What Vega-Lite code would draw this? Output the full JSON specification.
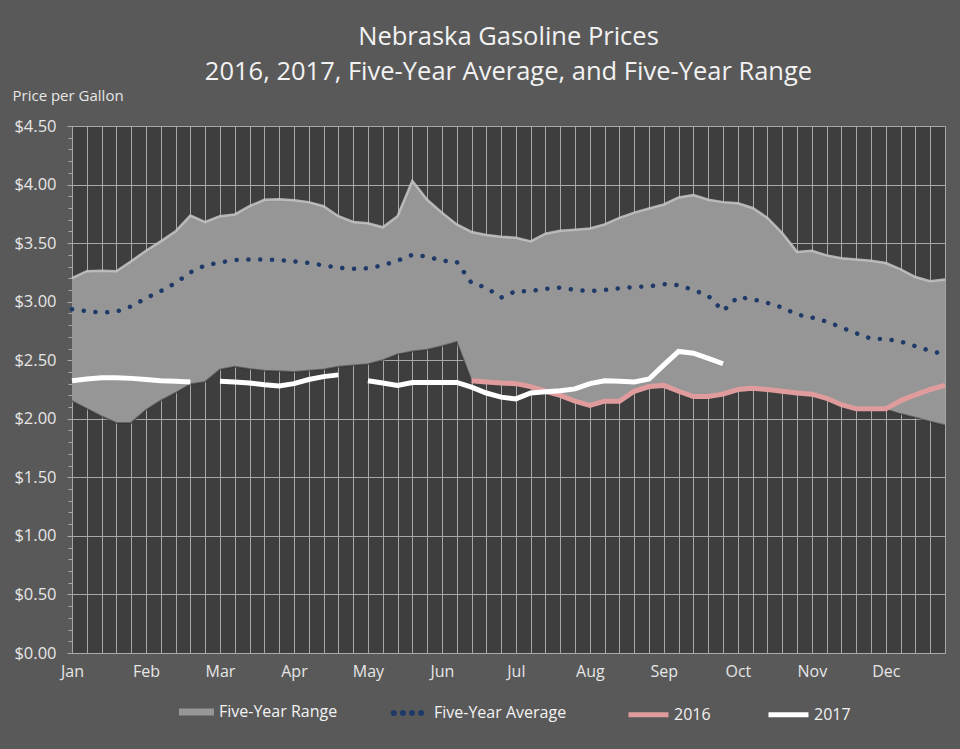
{
  "$schema": "https://vega.github.io/schema/vega-lite/v6.json",
  "width": 873,
  "height": 527,
  "autosize": "none",
  "padding": {"left": 72, "top": 126, "right": 15, "bottom": 96},
  "background": "#595959",
  "config": {
    "font": "Open Sans",
    "view": {"fill": "#3e3e3e", "stroke": null}
  },
  "title": {
    "text": ["Nebraska Gasoline Prices", "2016, 2017, Five-Year Average, and Five-Year Range"],
    "color": "#f2f2f2",
    "fontSize": 25.5,
    "fontWeight": "normal",
    "font": "Open Sans",
    "lineHeight": 35,
    "anchor": "middle",
    "frame": "group",
    "offset": 3
  },
  "data": {
    "values": [
      {"i":0,"hi":3.20,"lo":2.15,"avg":2.935,"y2016":null,"y2017":2.325},
      {"i":1,"hi":3.26,"lo":2.085,"avg":2.92,"y2016":null,"y2017":2.34},
      {"i":2,"hi":3.265,"lo":2.02,"avg":2.905,"y2016":null,"y2017":2.35},
      {"i":3,"hi":3.26,"lo":1.965,"avg":2.915,"y2016":null,"y2017":2.35},
      {"i":4,"hi":3.345,"lo":1.965,"avg":2.96,"y2016":null,"y2017":2.345},
      {"i":5,"hi":3.435,"lo":2.075,"avg":3.03,"y2016":null,"y2017":2.335},
      {"i":6,"hi":3.515,"lo":2.155,"avg":3.09,"y2016":null,"y2017":2.325},
      {"i":7,"hi":3.60,"lo":2.22,"avg":3.16,"y2016":null,"y2017":2.32},
      {"i":8,"hi":3.735,"lo":2.295,"avg":3.25,"y2016":null,"y2017":2.315},
      {"i":9,"hi":3.68,"lo":2.315,"avg":3.31,"y2016":null,"y2017":null},
      {"i":10,"hi":3.73,"lo":2.42,"avg":3.335,"y2016":null,"y2017":2.32},
      {"i":11,"hi":3.745,"lo":2.445,"avg":3.355,"y2016":null,"y2017":2.315},
      {"i":12,"hi":3.815,"lo":2.425,"avg":3.36,"y2016":null,"y2017":2.305},
      {"i":13,"hi":3.87,"lo":2.41,"avg":3.36,"y2016":null,"y2017":2.29},
      {"i":14,"hi":3.875,"lo":2.405,"avg":3.355,"y2016":null,"y2017":2.28},
      {"i":15,"hi":3.865,"lo":2.40,"avg":3.345,"y2016":null,"y2017":2.30},
      {"i":16,"hi":3.85,"lo":2.41,"avg":3.33,"y2016":null,"y2017":2.335},
      {"i":17,"hi":3.815,"lo":2.42,"avg":3.31,"y2016":null,"y2017":2.36},
      {"i":18,"hi":3.73,"lo":2.445,"avg":3.29,"y2016":null,"y2017":2.375},
      {"i":19,"hi":3.68,"lo":2.455,"avg":3.28,"y2016":null,"y2017":null},
      {"i":20,"hi":3.67,"lo":2.465,"avg":3.285,"y2016":null,"y2017":2.325},
      {"i":21,"hi":3.635,"lo":2.50,"avg":3.31,"y2016":null,"y2017":2.305},
      {"i":22,"hi":3.73,"lo":2.55,"avg":3.35,"y2016":null,"y2017":2.285},
      {"i":23,"hi":4.03,"lo":2.575,"avg":3.40,"y2016":null,"y2017":2.31},
      {"i":24,"hi":3.87,"lo":2.59,"avg":3.385,"y2016":null,"y2017":2.31},
      {"i":25,"hi":3.76,"lo":2.62,"avg":3.35,"y2016":null,"y2017":2.31},
      {"i":26,"hi":3.66,"lo":2.655,"avg":3.34,"y2016":null,"y2017":2.31},
      {"i":27,"hi":3.595,"lo":2.325,"avg":3.16,"y2016":2.325,"y2017":2.27},
      {"i":28,"hi":3.57,"lo":2.315,"avg":3.12,"y2016":2.315,"y2017":2.22},
      {"i":29,"hi":3.555,"lo":2.305,"avg":3.035,"y2016":2.305,"y2017":2.185},
      {"i":30,"hi":3.545,"lo":2.30,"avg":3.09,"y2016":2.30,"y2017":2.17},
      {"i":31,"hi":3.515,"lo":2.275,"avg":3.09,"y2016":2.275,"y2017":2.22},
      {"i":32,"hi":3.58,"lo":2.235,"avg":3.11,"y2016":2.235,"y2017":2.23},
      {"i":33,"hi":3.605,"lo":2.20,"avg":3.12,"y2016":2.20,"y2017":2.24},
      {"i":34,"hi":3.615,"lo":2.15,"avg":3.10,"y2016":2.15,"y2017":2.255},
      {"i":35,"hi":3.625,"lo":2.115,"avg":3.09,"y2016":2.115,"y2017":2.30},
      {"i":36,"hi":3.66,"lo":2.15,"avg":3.10,"y2016":2.15,"y2017":2.325},
      {"i":37,"hi":3.715,"lo":2.15,"avg":3.115,"y2016":2.15,"y2017":2.32},
      {"i":38,"hi":3.76,"lo":2.235,"avg":3.125,"y2016":2.235,"y2017":2.315},
      {"i":39,"hi":3.795,"lo":2.275,"avg":3.13,"y2016":2.275,"y2017":2.34},
      {"i":40,"hi":3.83,"lo":2.285,"avg":3.15,"y2016":2.285,"y2017":2.46},
      {"i":41,"hi":3.89,"lo":2.235,"avg":3.14,"y2016":2.235,"y2017":2.575},
      {"i":42,"hi":3.91,"lo":2.19,"avg":3.10,"y2016":2.19,"y2017":2.56},
      {"i":43,"hi":3.87,"lo":2.19,"avg":3.05,"y2016":2.19,"y2017":2.515},
      {"i":44,"hi":3.85,"lo":2.21,"avg":2.92,"y2016":2.21,"y2017":2.47},
      {"i":45,"hi":3.84,"lo":2.25,"avg":3.04,"y2016":2.25,"y2017":null},
      {"i":46,"hi":3.80,"lo":2.26,"avg":3.02,"y2016":2.26,"y2017":null},
      {"i":47,"hi":3.715,"lo":2.25,"avg":2.99,"y2016":2.25,"y2017":null},
      {"i":48,"hi":3.585,"lo":2.235,"avg":2.95,"y2016":2.235,"y2017":null},
      {"i":49,"hi":3.425,"lo":2.22,"avg":2.89,"y2016":2.22,"y2017":null},
      {"i":50,"hi":3.435,"lo":2.21,"avg":2.865,"y2016":2.21,"y2017":null},
      {"i":51,"hi":3.395,"lo":2.175,"avg":2.83,"y2016":2.175,"y2017":null},
      {"i":52,"hi":3.37,"lo":2.12,"avg":2.78,"y2016":2.12,"y2017":null},
      {"i":53,"hi":3.36,"lo":2.085,"avg":2.73,"y2016":2.085,"y2017":null},
      {"i":54,"hi":3.35,"lo":2.085,"avg":2.685,"y2016":2.085,"y2017":null},
      {"i":55,"hi":3.33,"lo":2.08,"avg":2.68,"y2016":2.085,"y2017":null},
      {"i":56,"hi":3.275,"lo":2.04,"avg":2.66,"y2016":2.155,"y2017":null},
      {"i":57,"hi":3.21,"lo":2.01,"avg":2.62,"y2016":2.205,"y2017":null},
      {"i":58,"hi":3.175,"lo":1.975,"avg":2.58,"y2016":2.25,"y2017":null},
      {"i":59,"hi":3.19,"lo":1.945,"avg":2.55,"y2016":2.285,"y2017":null}
    ]
  },
  "encoding": {
    "x": {
      "field": "i",
      "type": "quantitative",
      "scale": {"domain": [0, 59], "nice": false, "zero": false},
      "axis": {
        "values": [0,1,2,3,4,5,6,7,8,9,10,11,12,13,14,15,16,17,18,19,20,21,22,23,24,25,26,27,28,29,30,31,32,33,34,35,36,37,38,39,40,41,42,43,44,45,46,47,48,49,50,51,52,53,54,55,56,57,58,59],
        "labelExpr": "datum.value % 5 === 0 ? ['Jan','Feb','Mar','Apr','May','Jun','Jul','Aug','Sep','Oct','Nov','Dec'][datum.value / 5] : ''",
        "grid": true,
        "gridColor": "#a8a8a8",
        "gridWidth": 1,
        "ticks": false,
        "domainColor": "#a8a8a8",
        "labelColor": "#e6e6e6",
        "labelFontSize": 16,
        "labelFont": "Open Sans",
        "labelPadding": 10,
        "labelFlush": false,
        "labelOverlap": false,
        "labelBound": false,
        "title": null
      }
    }
  },
  "resolve": {"axis": {"y": "independent"}},
  "layer": [
    {
      "mark": {"type": "area", "opacity": 1},
      "encoding": {
        "y": {
          "field": "lo",
          "type": "quantitative",
          "scale": {"domain": [0, 4.5], "nice": false, "zero": true},
          "axis": {
            "values": [0, 0.5, 1, 1.5, 2, 2.5, 3, 3.5, 4, 4.5],
            "format": "$.2f",
            "grid": true,
            "gridColor": "#a8a8a8",
            "gridWidth": 1,
            "domainColor": "#a8a8a8",
            "tickColor": "#a8a8a8",
            "tickSize": 5,
            "labelColor": "#e6e6e6",
            "labelFontSize": 16.5,
            "labelFont": "Open Sans",
            "labelPadding": 11,
            "title": "Price per Gallon",
            "titleAngle": 0,
            "titleAlign": "left",
            "titleBaseline": "alphabetic",
            "titleX": -60,
            "titleY": -26,
            "titleColor": "#e6e6e6",
            "titleFontSize": 15,
            "titleFontWeight": "normal",
            "titleFont": "Open Sans"
          }
        },
        "y2": {"field": "hi"},
        "fill": {
          "datum": "Five-Year Range",
          "scale": {"domain": ["Five-Year Range"], "range": ["#969696"]},
          "legend": {
            "orient": "none", "legendX": 107, "legendY": 568.5, "title": null,
            "symbolType": "M-1,-0.2H1V0.2H-1Z", "symbolSize": 1225, "symbolStrokeWidth": 0,
            "symbolFillColor": "#a6a6a6",
            "labelColor": "#f2f2f2", "labelFontSize": 16, "labelFont": "Open Sans", "labelOffset": 5
          }
        }
      }
    },
    {
      "mark": {"type": "line", "color": "#c6c6c6", "strokeWidth": 2.5, "opacity": 0.85},
      "encoding": {
        "y": {"field": "hi", "type": "quantitative", "axis": null}
      }
    },
    {
      "mark": {"type": "line", "color": "#303030", "strokeWidth": 2, "opacity": 0.5},
      "encoding": {
        "y": {"field": "lo", "type": "quantitative", "axis": null}
      }
    },
    {
      "mark": {"type": "line", "color": "#1f3a68", "strokeWidth": 4.5, "strokeDash": [0.1, 11.7], "strokeCap": "round"},
      "encoding": {
        "y": {
          "field": "avg",
          "type": "quantitative",
          "axis": {
            "orient": "left",
            "values": [0,0.1,0.2,0.3,0.4,0.5,0.6,0.7,0.8,0.9,1,1.1,1.2,1.3,1.4,1.5,1.6,1.7,1.8,1.9,2,2.1,2.2,2.3,2.4,2.5,2.6,2.7,2.8,2.9,3,3.1,3.2,3.3,3.4,3.5,3.6,3.7,3.8,3.9,4,4.1,4.2,4.3,4.4,4.5],
            "labels": false,
            "grid": false,
            "domain": false,
            "tickSize": 4,
            "tickColor": "#a8a8a8",
            "title": null
          }
        },
        "opacity": {
          "datum": "Five-Year Average",
          "scale": {"domain": ["Five-Year Average"], "range": [1, 1]},
          "legend": {
            "orient": "none", "legendX": 317, "legendY": 568.5, "title": null,
            "symbolType": "M-0.91,0a0.13,0.13 0 1,0 0.26,0a0.13,0.13 0 1,0 -0.26,0Z M-0.39,0a0.13,0.13 0 1,0 0.26,0a0.13,0.13 0 1,0 -0.26,0Z M0.13,0a0.13,0.13 0 1,0 0.26,0a0.13,0.13 0 1,0 -0.26,0Z M0.65,0a0.13,0.13 0 1,0 0.26,0a0.13,0.13 0 1,0 -0.26,0Z",
            "symbolSize": 1225, "symbolStrokeWidth": 1.5,
            "symbolFillColor": "#1f3a68", "symbolStrokeColor": "#1f3a68",
            "labelColor": "#f2f2f2", "labelFontSize": 16, "labelFont": "Open Sans", "labelOffset": 8
          }
        }
      }
    },
    {
      "mark": {"type": "line", "strokeWidth": 5},
      "encoding": {
        "y": {"field": "y2016", "type": "quantitative", "axis": null},
        "color": {
          "datum": "2016",
          "scale": {"domain": ["2016", "2017"], "range": ["#e09c9c", "#ffffff"]},
          "legend": {
            "orient": "none", "legendX": 554, "legendY": 566, "direction": "horizontal", "columns": 2, "columnPadding": 47, "title": null,
            "symbolType": "stroke", "symbolSize": 1600, "symbolStrokeWidth": 5,
            "labelColor": "#f2f2f2", "labelFontSize": 16, "labelFont": "Open Sans", "labelOffset": 3
          }
        }
      }
    },
    {
      "mark": {"type": "line", "strokeWidth": 5},
      "encoding": {
        "y": {"field": "y2017", "type": "quantitative", "axis": null},
        "color": {"datum": "2017"}
      }
    }
  ]
}
